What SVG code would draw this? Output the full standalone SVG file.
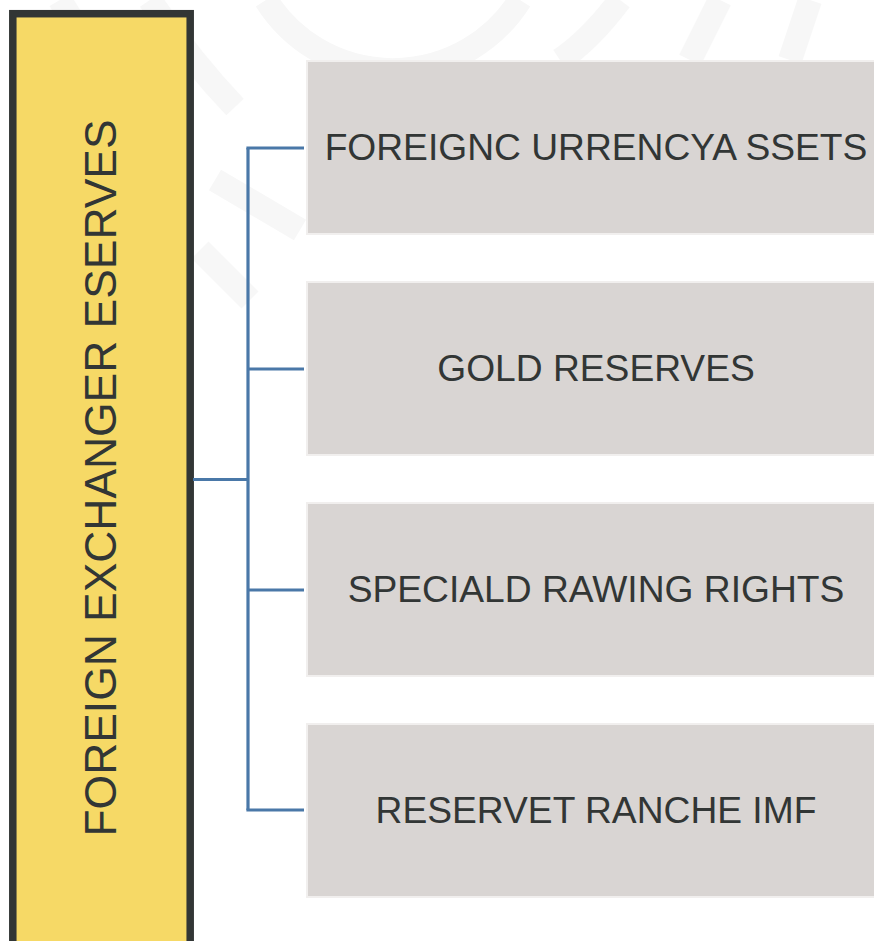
<svg xmlns="http://www.w3.org/2000/svg" width="874" height="941" viewBox="0 0 874 941">
<style>
.wm{fill:none;stroke:#f7f7f7;stroke-width:24}
.box{fill:#d9d5d3;stroke:#f1efee;stroke-width:2}
.lbl{font-family:"Liberation Sans",Arial,sans-serif;font-size:37.2px;fill:#323635;text-anchor:middle}
.conn{fill:none;stroke:#4a78a8;stroke-width:3.2}
</style>
<rect width="874" height="941" fill="#ffffff"/>
<g id="watermark">
<path class="wm" d="M266,0 A150,150 0 0 0 520,0"/>
<path class="wm" d="M150,0 Q190,60 235,107"/>
<path class="wm" d="M60,0 Q100,70 160,107"/>
<path class="wm" d="M620,0 Q590,40 560,60"/>
<path class="wm" d="M720,0 L690,60"/>
<path class="wm" d="M810,0 L790,60"/>
<path class="wm" d="M215,180 L300,230"/>
<path class="wm" d="M200,250 L250,300"/>
</g>
<g id="root">
<rect x="12.8" y="13.7" width="177.4" height="940" fill="#f6d966" stroke="#323635" stroke-width="7.5"/>
<text class="lbl" style="font-size:44.4px" transform="translate(115.5,478) rotate(-90)">FOREIGN EXCHANGER ESERVES</text>
</g>
<g id="connectors">
<path class="conn" d="M193,479.5 H248"/>
<path class="conn" d="M248,148 V810"/>
<path class="conn" d="M246.4,148 H304"/>
<path class="conn" d="M248,369 H304"/>
<path class="conn" d="M248,590 H304"/>
<path class="conn" d="M246.4,810 H304"/>
</g>
<g id="n1">
<rect class="box" x="307" y="61" width="580" height="173"/>
<text class="lbl" x="596" y="160">FOREIGNC URRENCYA SSETS</text>
</g>
<g id="n2">
<rect class="box" x="307" y="282" width="580" height="173"/>
<text class="lbl" x="596" y="381">GOLD RESERVES</text>
</g>
<g id="n3">
<rect class="box" x="307" y="503" width="580" height="173"/>
<text class="lbl" x="596" y="602">SPECIALD RAWING RIGHTS</text>
</g>
<g id="n4">
<rect class="box" x="307" y="724" width="580" height="173"/>
<text class="lbl" x="596" y="823">RESERVET RANCHE IMF</text>
</g>
</svg>
